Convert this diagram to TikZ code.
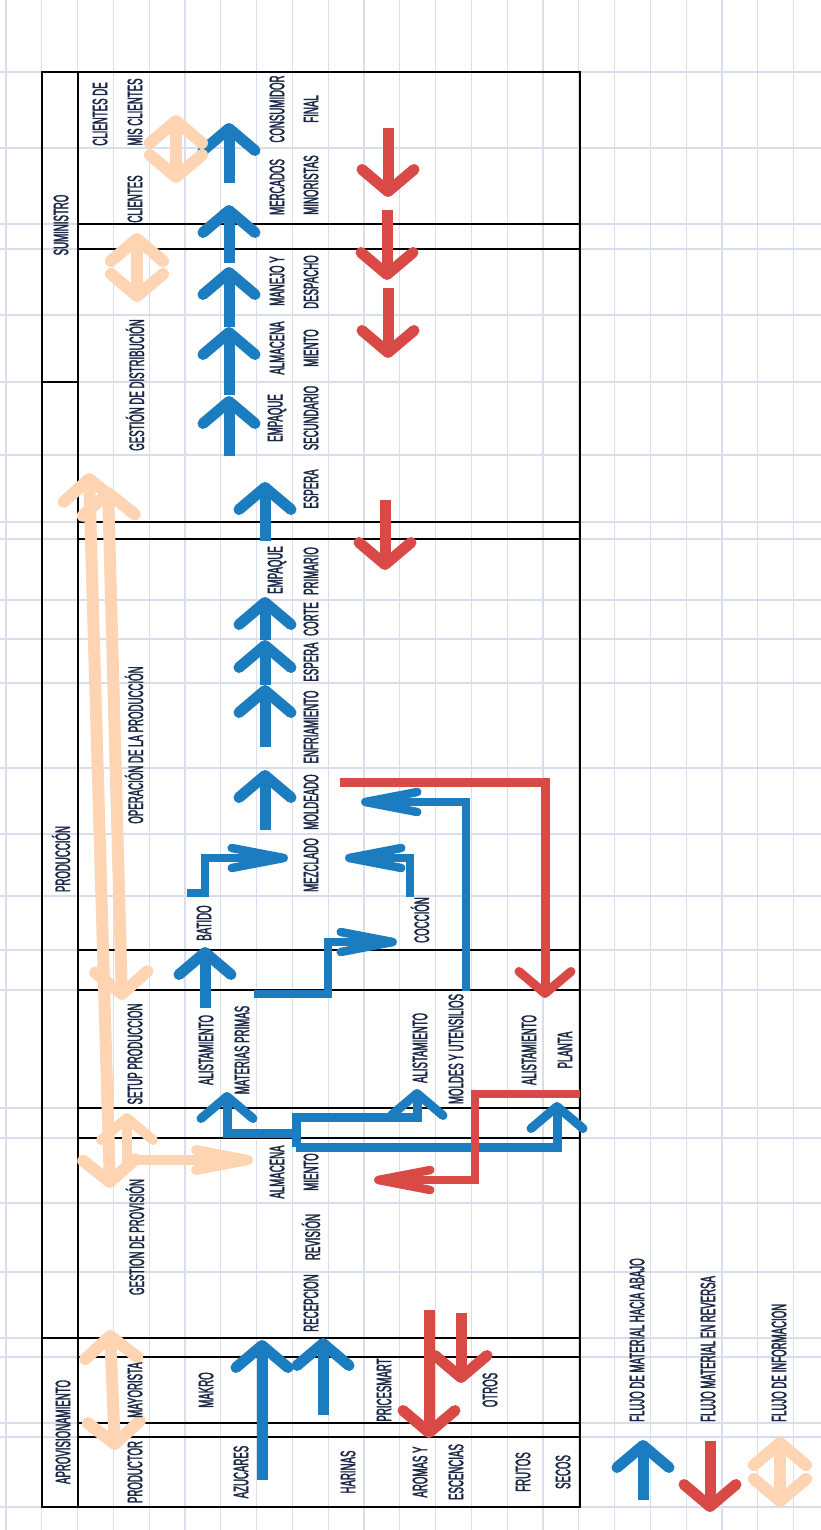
\documentclass[tikz,border=0pt]{standalone}
\usepackage{fontspec}
\setmainfont{Liberation Sans}[FakeStretch=0.46,FakeBold=1.6]
\usetikzlibrary{arrows.meta}
\definecolor{azul}{HTML}{1B7DC0}
\definecolor{rojo}{HTML}{D94A46}
\definecolor{durazno}{HTML}{FFD4B3}
\definecolor{rejilla}{HTML}{D8DEEB}
\definecolor{tinta}{HTML}{1A2744}
\tikzset{
  vbarb/.tip={Straight Barb[length=22pt,width=52pt,round]},
  hbarb/.tip={Straight Barb[length=52pt,width=20pt,round]},
  txt/.style={rotate=90,inner sep=0pt,text=tinta,font=\fontsize{21}{22}\selectfont},
  mat/.style={draw=azul,line width=11pt,-{vbarb}},
  rev/.style={draw=rojo,line width=11pt,-{vbarb}},
  info/.style={draw=durazno,line width=12pt,{vbarb}-{vbarb}},
  codo/.style={line width=8.5pt,-{hbarb}},
}
\begin{document}
\begin{tikzpicture}[x=1pt,y=-1pt]
  \useasboundingbox (0,0) rectangle (821,1530);
  %rejilla
  \foreach \k in {0,...,22} \draw[rejilla,line width=1.2pt] (6+35.8*\k,0)--(6+35.8*\k,1530);
  \foreach \y in {72,148,224,249,315,382,455,522,539,600,639,683,768,834,896,950,990,1108,1138,1203,1272,1338,1357,1423,1437,1507}
    \draw[rejilla,line width=1.2pt] (0,\y)--(821,\y);
  %tabla
  \draw[line width=2.6pt] (42,72) rectangle (580,1507) (78,72)--(78,1507);
  \foreach \y in {382,1338} \draw[line width=1.8pt] (42,\y)--(78,\y);
  \foreach \y in {224,249,522,539,950,990,1108,1138,1338,1357,1423,1437} \draw[line width=1.8pt] (78,\y)--(580,\y);
  %flujo hacia abajo
  \foreach \n/\x/\a/\b in {1/229/183/123,2/229/263/205,3/229/327/267,4/229/395/327,5/229/456/396,6/265/541/482,7/265/747/685,8/265/685/640,9/265/640/597,10/265/830/770,11/205/1008/947,12/262/1480/1340,13/323/1415/1338,14/643/1500/1440}{
    \coordinate (ma\n) at (\x,\a); \coordinate (mb\n) at (\x,\b);
    \draw[mat] (ma\n)--(mb\n);
  }
  \coordinate (bat) at (187,893); \coordinate (mezl) at (288,858);
  \coordinate (coc) at (410,897); \coordinate (mezr) at (345,858);
  \coordinate (mol) at (466,991); \coordinate (molr) at (361,802);
  \coordinate (amc) at (254,994); \coordinate (cocl) at (397,942);
  \draw[mat,codo] (bat)--++(18,0) |- (mezl);
  \draw[mat,codo] (coc) |- (mezr);
  \draw[mat,codo] (mol) |- (molr);
  \draw[mat,codo] (amc)--++(74,0) |- (cocl);
  \coordinate (alm) at (296,1147); \coordinate (almt) at (296,1117); \coordinate (almm) at (296,1133);
  \coordinate (ama) at (227,1092); \coordinate (amu) at (417,1089); \coordinate (amp) at (557,1102);
  \draw[mat,line width=9pt] (almm) -| (ama);
  \draw[mat,line width=9pt] (alm)--(almt) -| (amu);
  \draw[mat,line width=9pt] (alm) -| (amp);
  %reversa
  \foreach \n/\x/\a/\b in {1/388/128/197,2/387/210/280,3/388/288/358,4/385/500/570,5/429/1310/1438,6/461/1313/1383,7/710/1441/1512}{
    \coordinate (ra\n) at (\x,\a); \coordinate (rb\n) at (\x,\b);
    \draw[rev] (ra\n)--(rb\n);
  }
  \coordinate (rr1) at (340,782); \coordinate (rr2) at (545,998);
  \coordinate (rp1) at (580,1094); \coordinate (rp2) at (374,1180);
  \draw[rev,line width=9pt] (rr1) -| (rr2);
  \draw[rev,codo] (rp1)--++(-105,0) |- (rp2);
  %informacion
  \foreach \n/\xa/\a/\xb/\b in {1/176/115/176/183,2/137/233/137/302,3/89/473/110/1188,4/108/487/122/1000,5/110/1330/115/1450,6/780/1437/780/1507}{
    \coordinate (ia\n) at (\xa,\a); \coordinate (ib\n) at (\xb,\b);
    \draw[info] (ia\n)--(ib\n);
  }
  \coordinate (pv1) at (127,1113); \coordinate (pv2) at (253,1160);
  \draw[info,line width=10pt,{vbarb}-{hbarb}] (pv1) |- (pv2);
  %textos
  \foreach \n/\x/\y/\t in {sum/61/225/SUMINISTRO,prod/61/859/PRODUCCIÓN,aprov/63/1432/APROVISIONAMIENTO,
    cdm1/100/114/CLIENTES DE,cdm2/135/112/MIS CLIENTES,cli/135/199/CLIENTES,gdist/135/385/GESTIÓN DE DISTRIBUCIÓN,
    oper/134/745/OPERACIÓN DE LA PRODUCCIÓN,setup/135/1054/SETUP PRODUCCION,gprov/135/1237/GESTION DE PROVISIÓN,
    may/135/1390/MAYORISTA,prodr/135/1472/PRODUCTOR,
    cons1/277/109/CONSUMIDOR,cons2/311/109/FINAL,mer1/277/187/MERCADOS,mer2/311/185/MINORISTAS,
    man1/277/281/MANEJO Y,man2/311/282/DESPACHO,alm1/277/348/ALMACENA,alm2/311/348/MIENTO,
    emps1/277/418/EMPAQUE,emps2/311/418/SECUNDARIO,esp1/311/489/ESPERA,empp1/277/570/EMPAQUE,empp2/311/571/PRIMARIO,
    corte/311/619/CORTE,esp2/311/662/ESPERA,enf/311/727/ENFRIAMIENTO,mold/311/802/MOLDEADO,mez/311/865/MEZCLADO,
    bat/204/923/BATIDO,coc/420/920/COCCIÓN,am1/206/1050/ALISTAMIENTO,am2/242/1050/MATERIAS PRIMAS,
    au1/420/1048/ALISTAMIENTO,au2/456/1049/MOLDES Y UTENSILIOS,ap1/529/1050/ALISTAMIENTO,ap2/565/1050/PLANTA,
    pa1/277/1172/ALMACENA,pa2/311/1172/MIENTO,rev/311/1237/REVISIÓN,rec/311/1303/RECEPCION,
    makro/206/1390/MAKRO,price/384/1390/PRICESMART,otros/490/1390/OTROS,
    azu/241/1472/AZUCARES,har/348/1472/HARINAS,aro1/420/1472/AROMAS Y,aro2/456/1472/ESCENCIAS,
    fru1/523/1472/FRUTOS,fru2/563/1472/SECOS}
    \node[txt] (t\n) at (\x,\y) {\t};
  \foreach \n/\x/\t in {1/637/FLUJO DE MATERIAL HACIA ABAJO,2/708/FLUJO MATERIAL EN REVERSA,3/779/FLUJO DE INFORMACION}
    \node[txt,anchor=west] (lg\n) at (\x,1422) {\t};
\end{tikzpicture}
\end{document}
